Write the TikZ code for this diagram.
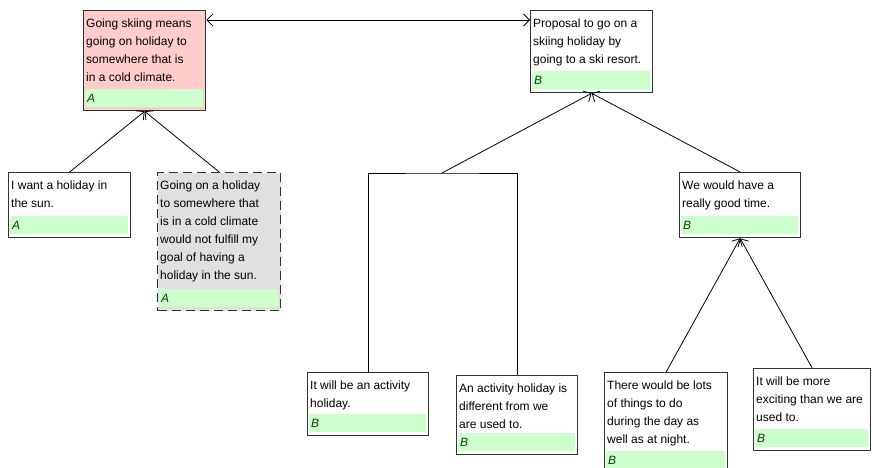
\documentclass[tikz,border=0pt]{standalone}
\usepackage{fontspec}
\setmainfont{Liberation Sans}
\usetikzlibrary{arrows.meta}

\definecolor{pinkbg}{RGB}{255,204,204}
\definecolor{greybg}{RGB}{224,224,224}
\definecolor{tagbg}{RGB}{204,255,204}
\definecolor{tagtext}{RGB}{20,60,20}
\definecolor{boxline}{RGB}{50,50,50}

\begin{document}
\begin{tikzpicture}[x=1pt,y=-1pt,
	argbox/.style={draw=boxline, line width=1.3pt, anchor=north west, inner sep=0pt},
	argtext/.style={anchor=north west, inner sep=0pt, align=left, font=\fontsize{12}{18}\selectfont},
	argtag/.style={anchor=south west, fill=tagbg, inner xsep=2pt, inner ysep=0pt, minimum height=18pt, align=left, text=tagtext, font=\fontsize{12}{14}\selectfont\itshape},
	link/.style={draw=black, line width=0.8pt},
	arr/.style={link, -{Straight Barb[length=6pt,width=12pt]}},
	dblarr/.style={link, {Straight Barb[length=6pt,width=12pt]}-{Straight Barb[length=6pt,width=12pt]}}]

		\useasboundingbox (0,0) rectangle (873,468);
		\clip (0,0) rectangle (873,468);

		% side A
		\node[argbox, fill=pinkbg, minimum width=122pt, minimum height=100pt] (skiing) at (83,10) {};
		\node[argtext] (skiing-text) at ([shift={(3,8.5)}]skiing.north west) {Going skiing means\\going on holiday to\\somewhere that is\\in a cold climate.};
		\node[argtag, text width=114pt] (skiing-tag) at ([shift={(2,-4)}]skiing.south west) {A};

		\node[argbox, fill=white, minimum width=122pt, minimum height=65pt] (sun) at (8,172) {};
		\node[argtext] (sun-text) at ([shift={(3,8.5)}]sun.north west) {I want a holiday in\\the sun.};
		\node[argtag, text width=114pt] (sun-tag) at ([shift={(2,-4)}]sun.south west) {A};

		\node[argbox, fill=greybg, dash pattern=on 9pt off 5pt, minimum width=123pt, minimum height=138pt] (cold) at (157,172) {};
		\node[argtext] (cold-text) at ([shift={(3,8.5)}]cold.north west) {Going on a holiday\\to somewhere that\\is in a cold climate\\would not fulfill my\\goal of having a\\holiday in the sun.};
		\node[argtag, text width=115pt] (cold-tag) at ([shift={(2,-4)}]cold.south west) {A};

		% side B
		\node[argbox, fill=white, minimum width=122pt, minimum height=82pt] (proposal) at (530,10) {};
		\node[argtext] (proposal-text) at ([shift={(3,8.5)}]proposal.north west) {Proposal to go on a\\skiing holiday by\\going to a ski resort.};
		\node[argtag, text width=114pt] (proposal-tag) at ([shift={(2,-4)}]proposal.south west) {B};

		\node[argbox, fill=white, minimum width=121pt, minimum height=65pt] (goodtime) at (679,172) {};
		\node[argtext] (goodtime-text) at ([shift={(3,8.5)}]goodtime.north west) {We would have a\\really good time.};
		\node[argtag, text width=113pt] (goodtime-tag) at ([shift={(2,-4)}]goodtime.south west) {B};

		\node[argbox, fill=white, minimum width=121pt, minimum height=63pt] (activity) at (307,372) {};
		\node[argtext] (activity-text) at ([shift={(3,8.5)}]activity.north west) {It will be an activity\\holiday.};
		\node[argtag, text width=113pt] (activity-tag) at ([shift={(2,-4)}]activity.south west) {B};

		\node[argbox, fill=white, minimum width=121pt, minimum height=79pt] (different) at (456,375) {};
		\node[argtext] (different-text) at ([shift={(3,8.5)}]different.north west) {An activity holiday is\\different from we\\are used to.};
		\node[argtag, text width=113pt] (different-tag) at ([shift={(2,-4)}]different.south west) {B};

		\node[argbox, fill=white, minimum width=123pt, minimum height=100pt] (lots) at (604,372) {};
		\node[argtext] (lots-text) at ([shift={(3,8.5)}]lots.north west) {There would be lots\\of things to do\\during the day as\\well as at night.};
		\node[argtag, text width=115pt] (lots-tag) at ([shift={(2,-4)}]lots.south west) {B};

		\node[argbox, fill=white, minimum width=117pt, minimum height=82pt] (exciting) at (753,368) {};
		\node[argtext] (exciting-text) at ([shift={(3,8.5)}]exciting.north west) {It will be more\\exciting than we are\\used to.};
		\node[argtag, text width=109pt] (exciting-tag) at ([shift={(2,-4)}]exciting.south west) {B};

		% links
		\draw[dblarr] ([shift={(0,10)}]skiing.north east) -- ([shift={(0,10)}]proposal.north west);
		\draw[arr] (sun.north) -- (skiing.south);
		\draw[arr] (cold.north) -- (skiing.south);

		\coordinate (join) at (442,173);
		\draw[link] (activity.north) |- (join) -| (different.north);
		\draw[arr] (join) -- (proposal.south);
		\draw[arr] (goodtime.north) -- (proposal.south);
		\draw[arr] (lots.north) -- (goodtime.south);
		\draw[arr] (exciting.north) -- (goodtime.south);

\end{tikzpicture}
\end{document}
